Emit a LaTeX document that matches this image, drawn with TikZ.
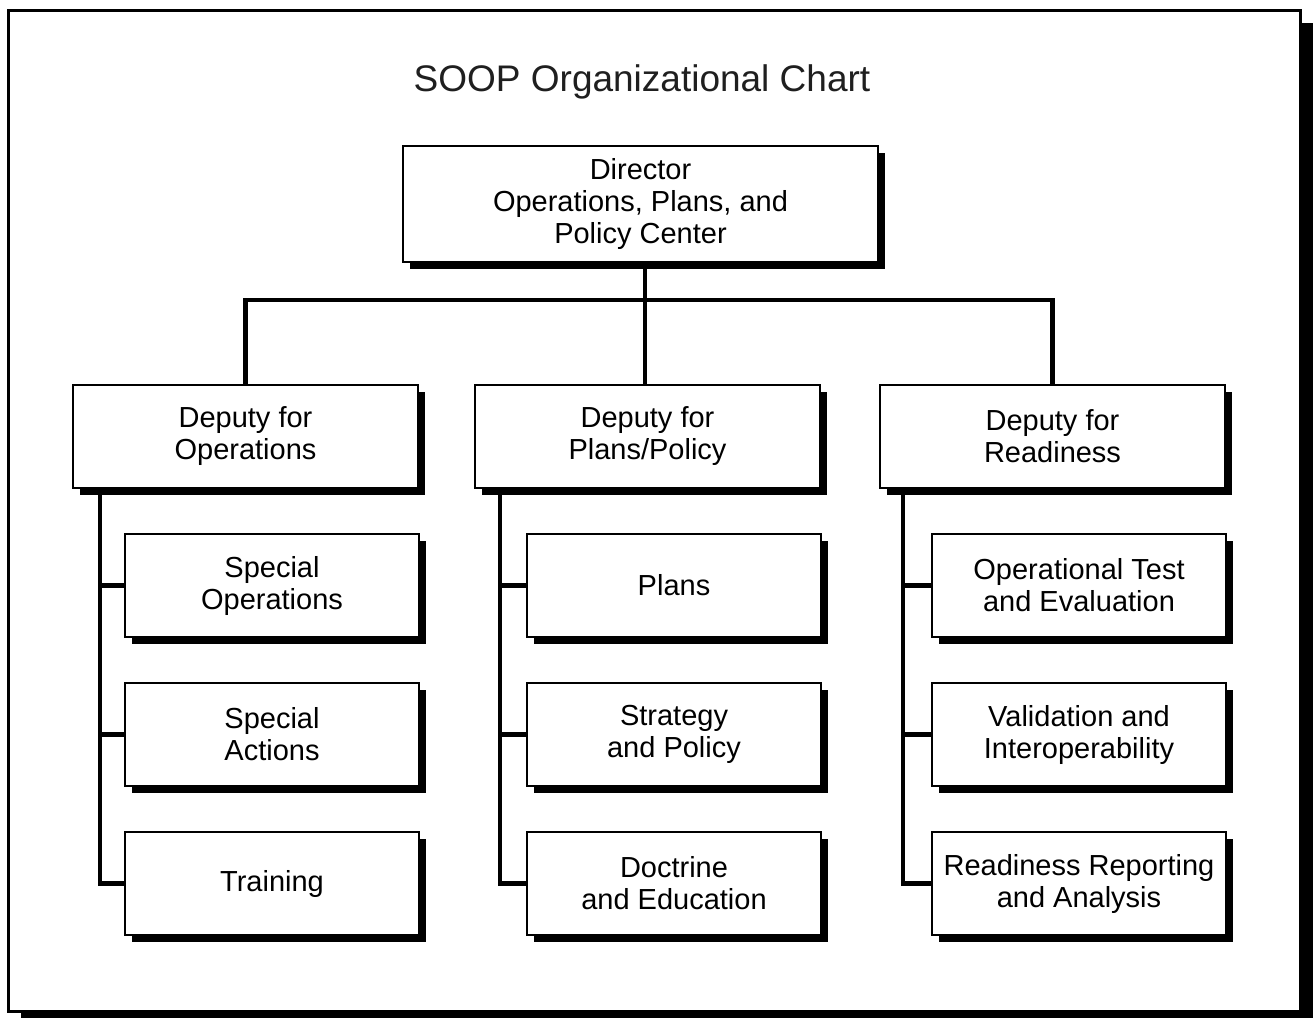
\documentclass[tikz,border=0pt]{standalone}
\usepackage{fontspec}
\setmainfont{Liberation Sans}
\usetikzlibrary{shadows}
\begin{document}
\begin{tikzpicture}[x=1pt,y=-1pt,
  orgbox/.style={draw=black, fill=white, line width=2pt, inner sep=0pt, align=center,
    font=\fontsize{29}{32}\selectfont,
    drop shadow={shadow xshift=7pt, shadow yshift=-7pt, fill=black, opacity=1}},
  deputy/.style={orgbox, minimum width=345pt, minimum height=103pt},
  sub/.style={orgbox, minimum width=294pt, minimum height=103pt},
  link/.style={line width=4.5pt, line join=miter}]
\useasboundingbox (0,0) rectangle (1313,1017);
% outer frame
\fill[black] (21,23) rectangle (1313,1024);
\draw[line width=3pt, fill=white] (8,10) rectangle (1300,1011);
\node[font=\fontsize{37}{44}\selectfont, text=black!88] (title) at (642,82) {SOOP Organizational Chart};
% director
\node[orgbox, minimum width=475pt, minimum height=116pt] (dir) at (640.5,204) {Director\\Operations, Plans, and\\Policy Center};
% deputies
\node[deputy] (dep1) at (245.5,436.5) {Deputy for\\Operations};
\node[deputy] (dep2) at (647.5,436.5) {Deputy for\\Plans/Policy};
\node[deputy] (dep3) at (1052.5,436.5) {Deputy for\\Readiness};
% subs
\node[sub] (s11) at (272,585.5) {Special\\Operations};
\node[sub] (s12) at (272,734.5) {Special\\Actions};
\node[sub] (s13) at (272,883.5) {Training};
\node[sub] (s21) at (674,585.5) {Plans};
\node[sub] (s22) at (674,734.5) {Strategy\\and Policy};
\node[sub] (s23) at (674,883.5) {Doctrine\\and Education};
\node[sub] (s31) at (1079,585.5) {Operational Test\\and Evaluation};
\node[sub] (s32) at (1079,734.5) {Validation and\\Interoperability};
\node[sub] (s33) at (1079,883.5) {Readiness Reporting\\and Analysis};
% connectors
\coordinate (bus) at (645,300);
\coordinate (sp1) at (100,0);
\coordinate (sp2) at (500,0);
\coordinate (sp3) at (903,0);
\draw[link] (dir.south -| bus) -- (dep2.north -| bus);
\draw[link] (dep1.north) |- (bus) -| (dep3.north);
\draw[link] (dep1.south -| sp1) |- (s13.west);
\draw[link] (sp1 |- s11.west) -- (s11.west);
\draw[link] (sp1 |- s12.west) -- (s12.west);
\draw[link] (dep2.south -| sp2) |- (s23.west);
\draw[link] (sp2 |- s21.west) -- (s21.west);
\draw[link] (sp2 |- s22.west) -- (s22.west);
\draw[link] (dep3.south -| sp3) |- (s33.west);
\draw[link] (sp3 |- s31.west) -- (s31.west);
\draw[link] (sp3 |- s32.west) -- (s32.west);
\end{tikzpicture}
\end{document}
